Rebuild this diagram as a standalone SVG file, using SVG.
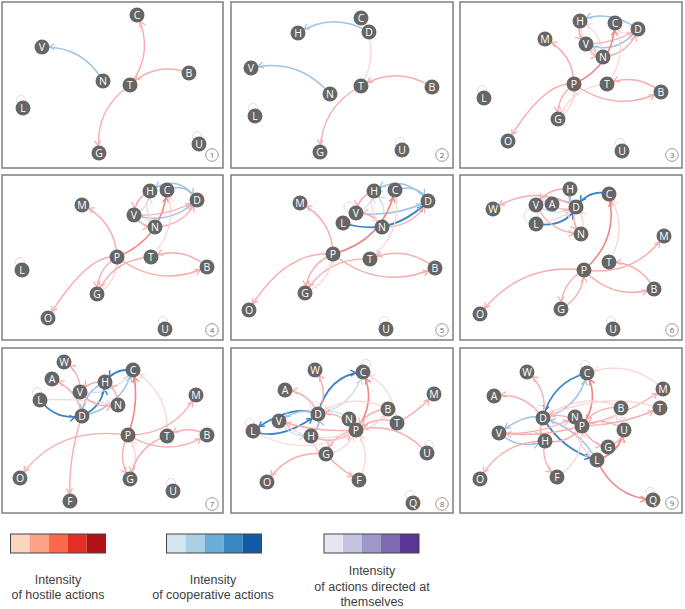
<svg xmlns="http://www.w3.org/2000/svg" width="685" height="609" viewBox="0 0 685 609">
<style>
.fr{fill:#fff;stroke:#7f7f7f;stroke-width:1.5}
.e path{fill:none}
.h1{stroke:#fcd3d3;stroke-width:1.2;marker-end:url(#ah1)}
.h2{stroke:#f8adad;stroke-width:1.4;marker-end:url(#ah2)}
.h3{stroke:#f18585;stroke-width:1.6;marker-end:url(#ah3)}
.c1{stroke:#c8dcef;stroke-width:1.2;marker-end:url(#ac1)}
.c2{stroke:#9fc3e5;stroke-width:1.5;marker-end:url(#ac2)}
.c3{stroke:#3e83c3;stroke-width:1.8;marker-end:url(#ac3)}
.s{fill:none;stroke:#e0d9ee;stroke-width:1}
.n circle{fill:#666}
.n text{fill:#fff;font-family:"Open Sans","Liberation Sans",sans-serif;font-size:10.5px;text-anchor:middle}
.num circle{fill:#fff;stroke:#999;stroke-width:1}
.num text{fill:#666;font-family:"Open Sans","Liberation Sans",sans-serif;font-size:8px;text-anchor:middle}
.lg text{fill:#404040;font-family:"Liberation Sans",Arial,sans-serif;font-size:12.5px;text-anchor:middle}
.bar{stroke:none}
.bo{fill:none;stroke:#444;stroke-width:1}
</style>
<defs>
<marker id="ah1" markerWidth="6" markerHeight="7" refX="13" refY="3.5" orient="auto" markerUnits="userSpaceOnUse" overflow="visible"><path d="M0.5,0.5 L5.5,3.5 L0.5,6.5" fill="none" stroke="#fcd3d3" stroke-width="1.2"/></marker>
<marker id="ah2" markerWidth="6" markerHeight="7" refX="13" refY="3.5" orient="auto" markerUnits="userSpaceOnUse" overflow="visible"><path d="M0.5,0.5 L5.5,3.5 L0.5,6.5" fill="none" stroke="#f8adad" stroke-width="1.3"/></marker>
<marker id="ah3" markerWidth="6" markerHeight="7" refX="13" refY="3.5" orient="auto" markerUnits="userSpaceOnUse" overflow="visible"><path d="M0.5,0.5 L5.5,3.5 L0.5,6.5" fill="none" stroke="#f18585" stroke-width="1.4"/></marker>
<marker id="ac1" markerWidth="6" markerHeight="7" refX="13" refY="3.5" orient="auto" markerUnits="userSpaceOnUse" overflow="visible"><path d="M0.5,0.5 L5.5,3.5 L0.5,6.5" fill="none" stroke="#c8dcef" stroke-width="1.2"/></marker>
<marker id="ac2" markerWidth="6" markerHeight="7" refX="13" refY="3.5" orient="auto" markerUnits="userSpaceOnUse" overflow="visible"><path d="M0.5,0.5 L5.5,3.5 L0.5,6.5" fill="none" stroke="#9fc3e5" stroke-width="1.3"/></marker>
<marker id="ac3" markerWidth="6" markerHeight="7" refX="13" refY="3.5" orient="auto" markerUnits="userSpaceOnUse" overflow="visible"><path d="M0.5,0.5 L5.5,3.5 L0.5,6.5" fill="none" stroke="#3e83c3" stroke-width="1.5"/></marker>
</defs>
<rect width="685" height="609" fill="#fff"/>

<!-- Panel 1 -->
<g id="panel1">
<rect class="fr" x="2" y="2" width="221" height="166"/>
<g class="e" id="p1-edges">
<path class="c2" d="M103,81 Q83,46 42,47"/>
<path class="h2" d="M130,85 Q155,52 137,15"/>
<path class="h2" d="M189,73 Q156,61 130,85"/>
<path class="h2" d="M130,85 Q94,110 99,153"/>
<circle class="s" cx="21" cy="100" r="4.5"/>
<circle class="s" cx="197" cy="136" r="4.5"/>
</g>
<g id="p1-C" class="n"><circle cx="137" cy="15" r="7.5"/><text x="137" y="18.7">C</text></g>
<g id="p1-V" class="n"><circle cx="42" cy="47" r="7.5"/><text x="42" y="50.7">V</text></g>
<g id="p1-N" class="n"><circle cx="103" cy="81" r="7.5"/><text x="103" y="84.7">N</text></g>
<g id="p1-T" class="n"><circle cx="130" cy="85" r="7.5"/><text x="130" y="88.7">T</text></g>
<g id="p1-B" class="n"><circle cx="189" cy="73" r="7.5"/><text x="189" y="76.7">B</text></g>
<g id="p1-L" class="n"><circle cx="23" cy="108" r="7.5"/><text x="23" y="111.7">L</text></g>
<g id="p1-G" class="n"><circle cx="99" cy="153" r="7.5"/><text x="99" y="156.7">G</text></g>
<g id="p1-U" class="n"><circle cx="199" cy="144" r="7.5"/><text x="199" y="147.7">U</text></g>
<g class="num"><circle cx="212" cy="155" r="6.3"/><text x="212" y="158">1</text></g>
</g>

<!-- Panel 2 -->
<g id="panel2">
<rect class="fr" x="231" y="2" width="222" height="166"/>
<g class="e" id="p2-edges">
<path class="c2" d="M369,32 Q333,11 298,33"/>
<path class="c2" d="M330,94 Q298,57 251,68"/>
<path class="h1" d="M361,86 Q381,52 361,18"/>
<path class="h2" d="M432,87 Q397,65 361,86"/>
<path class="h2" d="M361,86 Q321,107 320,152"/>
<circle class="s" cx="253" cy="108" r="4.5"/>
<circle class="s" cx="400" cy="142" r="4.5"/>
</g>
<g id="p2-C" class="n"><circle cx="361" cy="18" r="7.5"/><text x="361" y="21.7">C</text></g>
<g id="p2-D" class="n"><circle cx="369" cy="32" r="7.5"/><text x="369" y="35.7">D</text></g>
<g id="p2-H" class="n"><circle cx="298" cy="33" r="7.5"/><text x="298" y="36.7">H</text></g>
<g id="p2-V" class="n"><circle cx="251" cy="68" r="7.5"/><text x="251" y="71.7">V</text></g>
<g id="p2-N" class="n"><circle cx="330" cy="94" r="7.5"/><text x="330" y="97.7">N</text></g>
<g id="p2-T" class="n"><circle cx="361" cy="86" r="7.5"/><text x="361" y="89.7">T</text></g>
<g id="p2-B" class="n"><circle cx="432" cy="87" r="7.5"/><text x="432" y="90.7">B</text></g>
<g id="p2-L" class="n"><circle cx="255" cy="116" r="7.5"/><text x="255" y="119.7">L</text></g>
<g id="p2-G" class="n"><circle cx="320" cy="152" r="7.5"/><text x="320" y="155.7">G</text></g>
<g id="p2-U" class="n"><circle cx="402" cy="150" r="7.5"/><text x="402" y="153.7">U</text></g>
<g class="num"><circle cx="442" cy="155" r="6.3"/><text x="442" y="158">2</text></g>
</g>

<!-- Panel 3 -->
<g id="panel3">
<rect class="fr" x="460" y="2" width="222" height="166"/>
<g class="e" id="p3-edges">
<path class="c2" d="M638,29 Q607,8 580,21"/>
<path class="c2" d="M638,29 Q616,56 586,44"/>
<path class="h2" d="M580,21 Q576,34 586,44"/>
<path class="h2" d="M586,44 Q591,56 603,57"/>
<path class="h1" d="M603,57 Q602,32 580,21"/>
<path class="h1" d="M580,21 Q581,46 603,57"/>
<path class="h2" d="M586,44 Q614,44 638,29"/>
<path class="h2" d="M603,57 Q629,54 638,29"/>
<path class="h3" d="M574,84 Q613,66 615,23"/>
<path class="h1" d="M607,84 Q629,56 615,23"/>
<path class="h2" d="M574,84 Q573,53 545,39"/>
<path class="h2" d="M574,84 Q545,80 508,141"/>
<path class="h2" d="M574,84 Q615,114 661,92"/>
<path class="h2" d="M661,92 Q636,72 607,84"/>
<path class="h2" d="M574,84 Q556,97 558,119"/>
<path class="h1" d="M558,119 Q577,106 574,84"/>
<path class="h1" d="M607,84 Q572,87 558,119"/>
<circle class="s" cx="482" cy="90" r="4.5"/>
<circle class="s" cx="620" cy="143" r="4.5"/>
</g>
<g id="p3-H" class="n"><circle cx="580" cy="21" r="7.5"/><text x="580" y="24.7">H</text></g>
<g id="p3-C" class="n"><circle cx="615" cy="23" r="7.5"/><text x="615" y="26.7">C</text></g>
<g id="p3-D" class="n"><circle cx="638" cy="29" r="7.5"/><text x="638" y="32.7">D</text></g>
<g id="p3-M" class="n"><circle cx="545" cy="39" r="7.5"/><text x="545" y="42.7">M</text></g>
<g id="p3-V" class="n"><circle cx="586" cy="44" r="7.5"/><text x="586" y="47.7">V</text></g>
<g id="p3-N" class="n"><circle cx="603" cy="57" r="7.5"/><text x="603" y="60.7">N</text></g>
<g id="p3-P" class="n"><circle cx="574" cy="84" r="7.5"/><text x="574" y="87.7">P</text></g>
<g id="p3-T" class="n"><circle cx="607" cy="84" r="7.5"/><text x="607" y="87.7">T</text></g>
<g id="p3-B" class="n"><circle cx="661" cy="92" r="7.5"/><text x="661" y="95.7">B</text></g>
<g id="p3-L" class="n"><circle cx="484" cy="98" r="7.5"/><text x="484" y="101.7">L</text></g>
<g id="p3-G" class="n"><circle cx="558" cy="119" r="7.5"/><text x="558" y="122.7">G</text></g>
<g id="p3-O" class="n"><circle cx="508" cy="141" r="7.5"/><text x="508" y="144.7">O</text></g>
<g id="p3-U" class="n"><circle cx="622" cy="151" r="7.5"/><text x="622" y="154.7">U</text></g>
<g class="num"><circle cx="672" cy="155" r="6.3"/><text x="672" y="158">3</text></g>
</g>

<!-- Panel 4 -->
<g id="panel4">
<rect class="fr" x="2" y="175" width="221" height="165"/>
<g class="e" id="p4-edges">
<path class="c2" d="M197,200 Q178,172 150,191"/>
<path class="c2" d="M134,215 Q170,226 197,200"/>
<path class="c1" d="M134,215 Q149,208 150,191"/>
<path class="c2" d="M167,190 Q186,182 197,200"/>
<path class="h2" d="M150,191 Q135,198 134,215"/>
<path class="h2" d="M134,215 Q141,227 155,227"/>
<path class="h3" d="M117,257 Q162,239 167,190"/>
<path class="h2" d="M155,227 Q184,226 197,200"/>
<path class="h2" d="M134,215 Q168,217 197,200"/>
<path class="h1" d="M150,191 Q142,211 155,227"/>
<path class="h1" d="M151,257 Q179,228 167,190"/>
<path class="h2" d="M117,257 Q115,221 82,205"/>
<path class="h2" d="M117,257 Q88,253 48,318"/>
<path class="h2" d="M117,257 Q159,289 207,267"/>
<path class="h2" d="M207,267 Q182,245 151,257"/>
<path class="h2" d="M117,257 Q96,270 97,294"/>
<path class="h1" d="M97,294 Q118,282 117,257"/>
<path class="h2" d="M151,257 Q113,259 97,294"/>
<circle class="s" cx="20" cy="262" r="4.5"/>
<circle class="s" cx="163" cy="321" r="4.5"/>
</g>
<g id="p4-H" class="n"><circle cx="150" cy="191" r="7.5"/><text x="150" y="194.7">H</text></g>
<g id="p4-C" class="n"><circle cx="167" cy="190" r="7.5"/><text x="167" y="193.7">C</text></g>
<g id="p4-D" class="n"><circle cx="197" cy="200" r="7.5"/><text x="197" y="203.7">D</text></g>
<g id="p4-M" class="n"><circle cx="82" cy="205" r="7.5"/><text x="82" y="208.7">M</text></g>
<g id="p4-V" class="n"><circle cx="134" cy="215" r="7.5"/><text x="134" y="218.7">V</text></g>
<g id="p4-N" class="n"><circle cx="155" cy="227" r="7.5"/><text x="155" y="230.7">N</text></g>
<g id="p4-P" class="n"><circle cx="117" cy="257" r="7.5"/><text x="117" y="260.7">P</text></g>
<g id="p4-T" class="n"><circle cx="151" cy="257" r="7.5"/><text x="151" y="260.7">T</text></g>
<g id="p4-B" class="n"><circle cx="207" cy="267" r="7.5"/><text x="207" y="270.7">B</text></g>
<g id="p4-L" class="n"><circle cx="22" cy="270" r="7.5"/><text x="22" y="273.7">L</text></g>
<g id="p4-G" class="n"><circle cx="97" cy="294" r="7.5"/><text x="97" y="297.7">G</text></g>
<g id="p4-O" class="n"><circle cx="48" cy="318" r="7.5"/><text x="48" y="321.7">O</text></g>
<g id="p4-U" class="n"><circle cx="165" cy="329" r="7.5"/><text x="165" y="332.7">U</text></g>
<g class="num"><circle cx="212" cy="330" r="6.3"/><text x="212" y="333">4</text></g>
</g>

<!-- Panel 5 -->
<g id="panel5">
<rect class="fr" x="231" y="175" width="222" height="165"/>
<g class="e" id="p5-edges">
<path class="c2" d="M428,201 Q403,172 374,191"/>
<path class="c2" d="M395,190 Q418,183 428,201"/>
<path class="c3" d="M343,223 Q392,238 428,201"/>
<path class="c2" d="M356,213 Q394,218 428,201"/>
<path class="c1" d="M356,213 Q372,207 374,191"/>
<path class="c1" d="M382,227 Q389,207 374,191"/>
<path class="h2" d="M374,191 Q358,197 356,213"/>
<path class="h2" d="M382,227 Q373,212 356,213"/>
<path class="h3" d="M333,254 Q383,241 395,190"/>
<path class="h2" d="M382,227 Q413,228 428,201"/>
<path class="h1" d="M374,191 Q367,211 382,227"/>
<path class="h1" d="M395,190 Q404,232 370,259"/>
<path class="h2" d="M333,254 Q332,219 300,203"/>
<path class="h2" d="M333,254 Q285,250 249,310"/>
<path class="h2" d="M333,254 Q380,292 435,268"/>
<path class="h2" d="M435,268 Q405,244 370,259"/>
<path class="h2" d="M370,259 Q327,257 305,293"/>
<path class="h2" d="M333,254 Q307,265 305,293"/>
<path class="h1" d="M305,293 Q331,282 333,254"/>
<circle class="s" cx="349" cy="207" r="5"/>
<circle class="s" cx="384" cy="321" r="4.5"/>
</g>
<g id="p5-H" class="n"><circle cx="374" cy="191" r="7.5"/><text x="374" y="194.7">H</text></g>
<g id="p5-C" class="n"><circle cx="395" cy="190" r="7.5"/><text x="395" y="193.7">C</text></g>
<g id="p5-D" class="n"><circle cx="428" cy="201" r="7.5"/><text x="428" y="204.7">D</text></g>
<g id="p5-M" class="n"><circle cx="300" cy="203" r="7.5"/><text x="300" y="206.7">M</text></g>
<g id="p5-V" class="n"><circle cx="356" cy="213" r="7.5"/><text x="356" y="216.7">V</text></g>
<g id="p5-L" class="n"><circle cx="343" cy="223" r="7.5"/><text x="343" y="226.7">L</text></g>
<g id="p5-N" class="n"><circle cx="382" cy="227" r="7.5"/><text x="382" y="230.7">N</text></g>
<g id="p5-P" class="n"><circle cx="333" cy="254" r="7.5"/><text x="333" y="257.7">P</text></g>
<g id="p5-T" class="n"><circle cx="370" cy="259" r="7.5"/><text x="370" y="262.7">T</text></g>
<g id="p5-B" class="n"><circle cx="435" cy="268" r="7.5"/><text x="435" y="271.7">B</text></g>
<g id="p5-G" class="n"><circle cx="305" cy="293" r="7.5"/><text x="305" y="296.7">G</text></g>
<g id="p5-O" class="n"><circle cx="249" cy="310" r="7.5"/><text x="249" y="313.7">O</text></g>
<g id="p5-U" class="n"><circle cx="386" cy="329" r="7.5"/><text x="386" y="332.7">U</text></g>
<g class="num"><circle cx="442" cy="330" r="6.3"/><text x="442" y="333">5</text></g>
</g>

<!-- Panel 6 -->
<g id="panel6">
<rect class="fr" x="460" y="175" width="222" height="165"/>
<g class="e" id="p6-edges">
<circle class="s" cx="531" cy="216" r="7"/>
<path class="c3" d="M609,194 Q590,188 576,207"/>
<path class="c3" d="M536,224 Q565,228 576,207"/>
<path class="c2" d="M570,189 Q568,200 576,207"/>
<path class="c1" d="M536,205 Q555,218 576,207"/>
<path class="c1" d="M576,207 Q556,194 536,205"/>
<path class="h2" d="M576,207 Q535,183 493,209"/>
<path class="h2" d="M570,189 Q548,187 536,205"/>
<path class="h2" d="M552,204 Q563,213 576,207"/>
<path class="h2" d="M536,205 Q550,233 581,234"/>
<path class="h2" d="M576,207 Q570,222 581,234"/>
<path class="h1" d="M581,234 Q587,219 576,207"/>
<path class="h1" d="M536,224 Q558,222 576,207"/>
<path class="h3" d="M584,270 Q619,240 609,194"/>
<path class="h1" d="M609,262 Q629,228 609,194"/>
<path class="h2" d="M584,270 Q634,277 664,236"/>
<path class="h2" d="M584,270 Q520,262 480,314"/>
<path class="h2" d="M584,270 Q613,301 654,289"/>
<path class="h2" d="M654,289 Q640,262 609,262"/>
<path class="h2" d="M584,270 Q561,283 561,309"/>
<path class="h2" d="M561,309 Q584,296 584,270"/>
<circle class="s" cx="611" cy="321" r="4.5"/>
</g>
<g id="p6-H" class="n"><circle cx="570" cy="189" r="7.5"/><text x="570" y="192.7">H</text></g>
<g id="p6-C" class="n"><circle cx="609" cy="194" r="7.5"/><text x="609" y="197.7">C</text></g>
<g id="p6-W" class="n"><circle cx="493" cy="209" r="7.5"/><text x="493" y="212.7">W</text></g>
<g id="p6-V" class="n"><circle cx="536" cy="205" r="7.5"/><text x="536" y="208.7">V</text></g>
<g id="p6-A" class="n"><circle cx="552" cy="204" r="7.5"/><text x="552" y="207.7">A</text></g>
<g id="p6-D" class="n"><circle cx="576" cy="207" r="7.5"/><text x="576" y="210.7">D</text></g>
<g id="p6-L" class="n"><circle cx="536" cy="224" r="7.5"/><text x="536" y="227.7">L</text></g>
<g id="p6-N" class="n"><circle cx="581" cy="234" r="7.5"/><text x="581" y="237.7">N</text></g>
<g id="p6-M" class="n"><circle cx="664" cy="236" r="7.5"/><text x="664" y="239.7">M</text></g>
<g id="p6-T" class="n"><circle cx="609" cy="262" r="7.5"/><text x="609" y="265.7">T</text></g>
<g id="p6-P" class="n"><circle cx="584" cy="270" r="7.5"/><text x="584" y="273.7">P</text></g>
<g id="p6-B" class="n"><circle cx="654" cy="289" r="7.5"/><text x="654" y="292.7">B</text></g>
<g id="p6-G" class="n"><circle cx="561" cy="309" r="7.5"/><text x="561" y="312.7">G</text></g>
<g id="p6-O" class="n"><circle cx="480" cy="314" r="7.5"/><text x="480" y="317.7">O</text></g>
<g id="p6-U" class="n"><circle cx="613" cy="329" r="7.5"/><text x="613" y="332.7">U</text></g>
<g class="num"><circle cx="672" cy="330" r="6.3"/><text x="672" y="333">6</text></g>
</g>

<!-- Panel 7 -->
<g id="panel7">
<rect class="fr" x="2" y="348" width="221" height="165"/>
<g class="e" id="p7-edges">
<path class="c3" d="M40,400 Q56,421 82,416"/>
<path class="c3" d="M133,370 Q115,368 105,382"/>
<path class="c3" d="M82,416 Q104,406 105,382"/>
<path class="c2" d="M105,382 Q83,392 82,416"/>
<path class="c2" d="M82,416 Q121,408 133,370"/>
<path class="c1" d="M80,392 Q113,397 133,370"/>
<path class="h2" d="M80,392 Q81,372 64,362"/>
<path class="h2" d="M82,416 Q78,389 52,379"/>
<path class="h2" d="M105,382 Q90,380 80,392"/>
<path class="h1" d="M40,400 Q79,398 118,405"/>
<path class="h2" d="M80,392 Q95,410 118,405"/>
<path class="h2" d="M118,405 Q118,390 105,382"/>
<path class="h2" d="M82,416 Q68,457 70,501"/>
<path class="h3" d="M128,435 Q140,403 133,370"/>
<path class="h1" d="M167,436 Q170,393 133,370"/>
<path class="h2" d="M128,435 Q174,435 196,395"/>
<path class="h2" d="M128,435 Q55,425 20,478"/>
<path class="h2" d="M128,435 Q168,459 207,435"/>
<path class="h2" d="M207,435 Q187,424 167,436"/>
<path class="h2" d="M128,435 Q116,458 130,479"/>
<path class="h1" d="M130,479 Q142,456 128,435"/>
<path class="h2" d="M167,436 Q136,446 130,479"/>
<circle class="s" cx="37" cy="392" r="4.5"/>
<circle class="s" cx="171" cy="483" r="4.5"/>
</g>
<g id="p7-W" class="n"><circle cx="64" cy="362" r="7.5"/><text x="64" y="365.7">W</text></g>
<g id="p7-C" class="n"><circle cx="133" cy="370" r="7.5"/><text x="133" y="373.7">C</text></g>
<g id="p7-A" class="n"><circle cx="52" cy="379" r="7.5"/><text x="52" y="382.7">A</text></g>
<g id="p7-H" class="n"><circle cx="105" cy="382" r="7.5"/><text x="105" y="385.7">H</text></g>
<g id="p7-V" class="n"><circle cx="80" cy="392" r="7.5"/><text x="80" y="395.7">V</text></g>
<g id="p7-M" class="n"><circle cx="196" cy="395" r="7.5"/><text x="196" y="398.7">M</text></g>
<g id="p7-L" class="n"><circle cx="40" cy="400" r="7.5"/><text x="40" y="403.7">L</text></g>
<g id="p7-N" class="n"><circle cx="118" cy="405" r="7.5"/><text x="118" y="408.7">N</text></g>
<g id="p7-D" class="n"><circle cx="82" cy="416" r="7.5"/><text x="82" y="419.7">D</text></g>
<g id="p7-P" class="n"><circle cx="128" cy="435" r="7.5"/><text x="128" y="438.7">P</text></g>
<g id="p7-T" class="n"><circle cx="167" cy="436" r="7.5"/><text x="167" y="439.7">T</text></g>
<g id="p7-B" class="n"><circle cx="207" cy="435" r="7.5"/><text x="207" y="438.7">B</text></g>
<g id="p7-O" class="n"><circle cx="20" cy="478" r="7.5"/><text x="20" y="481.7">O</text></g>
<g id="p7-G" class="n"><circle cx="130" cy="479" r="7.5"/><text x="130" y="482.7">G</text></g>
<g id="p7-U" class="n"><circle cx="173" cy="491" r="7.5"/><text x="173" y="494.7">U</text></g>
<g id="p7-F" class="n"><circle cx="70" cy="501" r="7.5"/><text x="70" y="504.7">F</text></g>
<g class="num"><circle cx="212" cy="504" r="6.3"/><text x="212" y="507">7</text></g>
</g>

<!-- Panel 8 -->
<g id="panel8">
<rect class="fr" x="231" y="348" width="222" height="165"/>
<g class="e" id="p8-edges">
<path class="c3" d="M318,414 Q328,375 363,372"/>
<path class="c1" d="M318,414 Q353,407 363,372"/>
<path class="c3" d="M318,414 Q291,403 253,431"/>
<path class="c3" d="M253,431 Q280,442 318,414"/>
<path class="c2" d="M318,414 Q301,406 279,421"/>
<path class="c1" d="M279,421 Q291,438 311,436"/>
<path class="c2" d="M311,436 Q321,427 318,414"/>
<path class="c1" d="M349,419 Q335,407 318,414"/>
<path class="h2" d="M318,414 Q309,392 285,390"/>
<path class="h2" d="M318,414 Q330,391 315,370"/>
<path class="h3" d="M356,430 Q377,403 363,372"/>
<path class="h1" d="M397,423 Q395,387 363,372"/>
<path class="h2" d="M397,423 Q418,412 434,394"/>
<path class="h2" d="M427,453 Q398,420 356,430"/>
<path class="h2" d="M397,423 Q379,414 356,430"/>
<path class="h2" d="M388,409 Q366,410 356,430"/>
<path class="h1" d="M356,430 Q378,429 388,409"/>
<path class="h1" d="M388,409 Q352,391 318,414"/>
<path class="h2" d="M356,430 Q342,411 318,414"/>
<path class="h2" d="M356,430 Q317,433 279,421"/>
<path class="h2" d="M311,436 Q335,447 356,430"/>
<path class="h2" d="M356,430 Q334,433 326,454"/>
<path class="h1" d="M326,454 Q348,451 356,430"/>
<path class="h2" d="M326,454 Q340,470 359,480"/>
<path class="h1" d="M359,480 Q373,454 356,430"/>
<path class="h2" d="M326,454 Q288,450 267,482"/>
<path class="h1" d="M311,436 Q313,450 326,454"/>
<path class="h1" d="M253,431 Q305,461 356,430"/>
<path class="h1" d="M279,421 Q315,449 356,430"/>
<circle class="s" cx="366" cy="364" r="4.5"/>
<circle class="s" cx="250" cy="423" r="4.5"/>
<circle class="s" cx="429" cy="445" r="4.5"/>
<circle class="s" cx="410" cy="495" r="4.5"/>
<circle class="s" cx="315" cy="406" r="4.5"/>
</g>
<g id="p8-W" class="n"><circle cx="315" cy="370" r="7.5"/><text x="315" y="373.7">W</text></g>
<g id="p8-C" class="n"><circle cx="363" cy="372" r="7.5"/><text x="363" y="375.7">C</text></g>
<g id="p8-M" class="n"><circle cx="434" cy="394" r="7.5"/><text x="434" y="397.7">M</text></g>
<g id="p8-A" class="n"><circle cx="285" cy="390" r="7.5"/><text x="285" y="393.7">A</text></g>
<g id="p8-D" class="n"><circle cx="318" cy="414" r="7.5"/><text x="318" y="417.7">D</text></g>
<g id="p8-N" class="n"><circle cx="349" cy="419" r="7.5"/><text x="349" y="422.7">N</text></g>
<g id="p8-B" class="n"><circle cx="388" cy="409" r="7.5"/><text x="388" y="412.7">B</text></g>
<g id="p8-T" class="n"><circle cx="397" cy="423" r="7.5"/><text x="397" y="426.7">T</text></g>
<g id="p8-V" class="n"><circle cx="279" cy="421" r="7.5"/><text x="279" y="424.7">V</text></g>
<g id="p8-P" class="n"><circle cx="356" cy="430" r="7.5"/><text x="356" y="433.7">P</text></g>
<g id="p8-L" class="n"><circle cx="253" cy="431" r="7.5"/><text x="253" y="434.7">L</text></g>
<g id="p8-H" class="n"><circle cx="311" cy="436" r="7.5"/><text x="311" y="439.7">H</text></g>
<g id="p8-G" class="n"><circle cx="326" cy="454" r="7.5"/><text x="326" y="457.7">G</text></g>
<g id="p8-U" class="n"><circle cx="427" cy="453" r="7.5"/><text x="427" y="456.7">U</text></g>
<g id="p8-O" class="n"><circle cx="267" cy="482" r="7.5"/><text x="267" y="485.7">O</text></g>
<g id="p8-F" class="n"><circle cx="359" cy="480" r="7.5"/><text x="359" y="483.7">F</text></g>
<g id="p8-Q" class="n"><circle cx="413" cy="503" r="7.5"/><text x="413" y="506.7">Q</text></g>
<g class="num"><circle cx="442" cy="504" r="6.3"/><text x="442" y="507">8</text></g>
</g>

<!-- Panel 9 -->
<g id="panel9">
<rect class="fr" x="460" y="348" width="222" height="165"/>
<g class="e" id="p9-edges">
<path class="c3" d="M587,373 Q552,382 543,418"/>
<path class="c3" d="M543,418 Q562,450 597,460"/>
<path class="c2" d="M597,460 Q578,428 543,418"/>
<path class="c2" d="M543,418 Q579,409 587,373"/>
<path class="c2" d="M543,418 Q526,412 499,433"/>
<path class="c2" d="M499,433 Q520,451 545,441"/>
<path class="h2" d="M543,418 Q525,392 494,396"/>
<path class="h2" d="M543,418 Q549,390 527,372"/>
<path class="h3" d="M582,426 Q600,401 587,373"/>
<path class="h1" d="M663,389 Q630,358 587,373"/>
<path class="h2" d="M582,426 Q626,416 663,389"/>
<path class="h2" d="M582,426 Q623,425 660,408"/>
<path class="h1" d="M621,408 Q585,390 543,418"/>
<path class="h1" d="M660,408 Q604,390 543,418"/>
<path class="h2" d="M582,426 Q565,410 543,418"/>
<path class="h2" d="M545,441 Q568,445 582,426"/>
<path class="h2" d="M582,426 Q541,438 499,433"/>
<path class="h2" d="M545,441 Q501,441 480,479"/>
<path class="h2" d="M545,441 Q540,463 557,477"/>
<path class="h3" d="M597,460 Q613,497 653,500"/>
<path class="h3" d="M597,460 Q620,453 624,430"/>
<path class="h2" d="M608,447 Q621,443 624,430"/>
<path class="h2" d="M582,426 Q589,444 608,447"/>
<path class="h1" d="M575,417 Q573,445 597,460"/>
<path class="h1" d="M557,477 Q585,459 582,426"/>
<path class="h2" d="M499,433 Q539,436 575,417"/>
<path class="h2" d="M621,408 Q596,405 582,426"/>
<path class="h2" d="M624,430 Q604,415 582,426"/>
<path class="h1" d="M582,426 Q607,429 621,408"/>
<path class="h2" d="M543,418 Q537,430 545,441"/>
<circle class="s" cx="585" cy="365" r="4.5"/>
<circle class="s" cx="623" cy="422" r="4.5"/>
<circle class="s" cx="650" cy="492" r="4.5"/>
<circle class="s" cx="540" cy="410" r="4.5"/>
</g>
<g id="p9-C" class="n"><circle cx="587" cy="373" r="7.5"/><text x="587" y="376.7">C</text></g>
<g id="p9-W" class="n"><circle cx="527" cy="372" r="7.5"/><text x="527" y="375.7">W</text></g>
<g id="p9-M" class="n"><circle cx="663" cy="389" r="7.5"/><text x="663" y="392.7">M</text></g>
<g id="p9-A" class="n"><circle cx="494" cy="396" r="7.5"/><text x="494" y="399.7">A</text></g>
<g id="p9-T" class="n"><circle cx="660" cy="408" r="7.5"/><text x="660" y="411.7">T</text></g>
<g id="p9-B" class="n"><circle cx="621" cy="408" r="7.5"/><text x="621" y="411.7">B</text></g>
<g id="p9-D" class="n"><circle cx="543" cy="418" r="7.5"/><text x="543" y="421.7">D</text></g>
<g id="p9-N" class="n"><circle cx="575" cy="417" r="7.5"/><text x="575" y="420.7">N</text></g>
<g id="p9-P" class="n"><circle cx="582" cy="426" r="7.5"/><text x="582" y="429.7">P</text></g>
<g id="p9-U" class="n"><circle cx="624" cy="430" r="7.5"/><text x="624" y="433.7">U</text></g>
<g id="p9-V" class="n"><circle cx="499" cy="433" r="7.5"/><text x="499" y="436.7">V</text></g>
<g id="p9-H" class="n"><circle cx="545" cy="441" r="7.5"/><text x="545" y="444.7">H</text></g>
<g id="p9-G" class="n"><circle cx="608" cy="447" r="7.5"/><text x="608" y="450.7">G</text></g>
<g id="p9-L" class="n"><circle cx="597" cy="460" r="7.5"/><text x="597" y="463.7">L</text></g>
<g id="p9-O" class="n"><circle cx="480" cy="479" r="7.5"/><text x="480" y="482.7">O</text></g>
<g id="p9-F" class="n"><circle cx="557" cy="477" r="7.5"/><text x="557" y="480.7">F</text></g>
<g id="p9-Q" class="n"><circle cx="653" cy="500" r="7.5"/><text x="653" y="503.7">Q</text></g>
<g class="num"><circle cx="672" cy="503" r="6.3"/><text x="672" y="506">9</text></g>
</g>

<!-- Legend -->
<g id="legend" class="lg">
<g id="legend-hostile">
<rect class="bar" x="10.5" y="534" width="19" height="19" fill="#fdd3c2"/>
<rect class="bar" x="29.5" y="534" width="19" height="19" fill="#fca386"/>
<rect class="bar" x="48.5" y="534" width="19" height="19" fill="#fb6b4b"/>
<rect class="bar" x="67.5" y="534" width="19" height="19" fill="#e32f27"/>
<rect class="bar" x="86.5" y="534" width="19" height="19" fill="#b11218"/>
<rect class="bo" x="10.5" y="534" width="95" height="19"/>
<text x="58" y="584">Intensity</text>
<text x="58" y="599">of hostile actions</text>
</g>
<g id="legend-coop">
<rect class="bar" x="166.5" y="534" width="19" height="19" fill="#d3e4f3"/>
<rect class="bar" x="185.5" y="534" width="19" height="19" fill="#abd0e6"/>
<rect class="bar" x="204.5" y="534" width="19" height="19" fill="#6aaed6"/>
<rect class="bar" x="223.5" y="534" width="19" height="19" fill="#3787c0"/>
<rect class="bar" x="242.5" y="534" width="19" height="19" fill="#105ba4"/>
<rect class="bo" x="166.5" y="534" width="95" height="19"/>
<text x="213" y="584">Intensity</text>
<text x="213" y="599">of cooperative actions</text>
</g>
<g id="legend-self">
<rect class="bar" x="324" y="534" width="19" height="19" fill="#e8e6f2"/>
<rect class="bar" x="343" y="534" width="19" height="19" fill="#c5c5e1"/>
<rect class="bar" x="362" y="534" width="19" height="19" fill="#9e9ac8"/>
<rect class="bar" x="381" y="534" width="19" height="19" fill="#7c6bb0"/>
<rect class="bar" x="400" y="534" width="19" height="19" fill="#5a3597"/>
<rect class="bo" x="324" y="534" width="95" height="19"/>
<text x="372" y="575">Intensity</text>
<text x="372" y="591">of actions directed at</text>
<text x="372" y="606">themselves</text>
</g>
</g>
</svg>
